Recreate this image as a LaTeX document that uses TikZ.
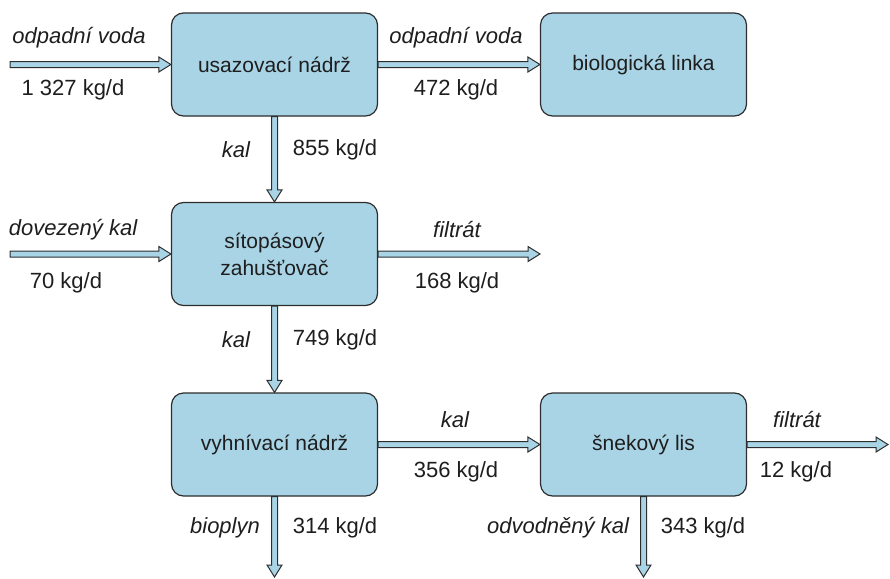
\documentclass[tikz,border=0pt]{standalone}
\usepackage{fontspec}
\setmainfont{Liberation Sans}
\usetikzlibrary{calc}
\definecolor{boxfill}{RGB}{168,212,230}
\definecolor{edge}{RGB}{45,45,45}
\definecolor{txt}{RGB}{30,30,30}
\newcommand\harrow[2]{\draw[flow] let \p1=(#1), \p2=(#2) in (\x1,\y1+3pt) -- (\x2-12pt,\y1+3pt) -- (\x2-12pt,\y1+7.5pt) -- (\x2,\y1) -- (\x2-12pt,\y1-7.5pt) -- (\x2-12pt,\y1-3pt) -- (\x1,\y1-3pt) -- cycle;}
\newcommand\varrow[2]{\draw[flow] let \p1=(#1), \p2=(#2) in (\x1-3pt,\y1) -- (\x1-3pt,\y2+12pt) -- (\x1-7.5pt,\y2+12pt) -- (\x1,\y2) -- (\x1+7.5pt,\y2+12pt) -- (\x1+3pt,\y2+12pt) -- (\x1+3pt,\y1) -- cycle;}
\begin{document}
\begin{tikzpicture}[x=1pt,y=-1pt,
  box/.style={draw=edge, fill=boxfill, line width=1.2pt, rounded corners=12pt, minimum width=206pt, minimum height=103pt, align=center, text=txt, font=\fontsize{21}{27}\selectfont, inner sep=0pt},
  flow/.style={draw=edge, fill=boxfill, line width=1pt, line join=miter},
  lab/.style={text=txt, font=\fontsize{22}{26}\selectfont\itshape, inner sep=0pt},
  num/.style={text=txt, font=\fontsize{22}{26}\selectfont, inner sep=0pt}]
\useasboundingbox (0,0) rectangle (890,578);
\node[box] (u) at (274.5,64.5) {usazovací nádrž};
\node[box] (b) at (643.5,64.5) {biologická linka};
\node[box] (s) at (274.5,254) {sítopásový\\zahušťovač};
\node[box] (v) at (274.5,444.5) {vyhnívací nádrž};
\node[box] (l) at (643.5,444.5) {šnekový lis};
\coordinate (in1) at (10,64.5);
\coordinate (in2) at (10,254);
\coordinate (f1) at (540,254);
\coordinate (f2) at (888,444.5);
\coordinate (o1) at (274.5,577);
\coordinate (o2) at (642.5,577);
\harrow{in1}{u.west}
\harrow{u.east}{b.west}
\varrow{u.south}{s.north}
\harrow{in2}{s.west}
\harrow{s.east}{f1}
\varrow{s.south}{v.north}
\harrow{v.east}{l.west}
\harrow{l.east}{f2}
\varrow{v.south}{o1}
\varrow{l.south}{o2}
\node[lab] (t1) at (79,38) {odpadní voda};
\node[num] (n1) at (73,90) {1 327 kg/d};
\node[lab] (t2) at (456,38) {odpadní voda};
\node[num] (n2) at (456,90) {472 kg/d};
\node[lab] (t3) at (236,150) {kal};
\node[num] (n3) at (335,150) {855 kg/d};
\node[lab] (t4) at (73,230) {dovezený kal};
\node[num] (n4) at (66,283) {70 kg/d};
\node[lab] (t5) at (457,230) {filtrát};
\node[num] (n5) at (457,283) {168 kg/d};
\node[lab] (t6) at (236,340) {kal};
\node[num] (n6) at (335,340) {749 kg/d};
\node[lab] (t7) at (455,420) {kal};
\node[num] (n7) at (456,472) {356 kg/d};
\node[lab] (t8) at (797,420) {filtrát};
\node[num] (n8) at (796,472) {12 kg/d};
\node[lab] (t9) at (225,528) {bioplyn};
\node[num] (n9) at (335,528) {314 kg/d};
\node[lab] (t10) at (558,528) {odvodněný kal};
\node[num] (n10) at (703,528) {343 kg/d};
\end{tikzpicture}
\end{document}
